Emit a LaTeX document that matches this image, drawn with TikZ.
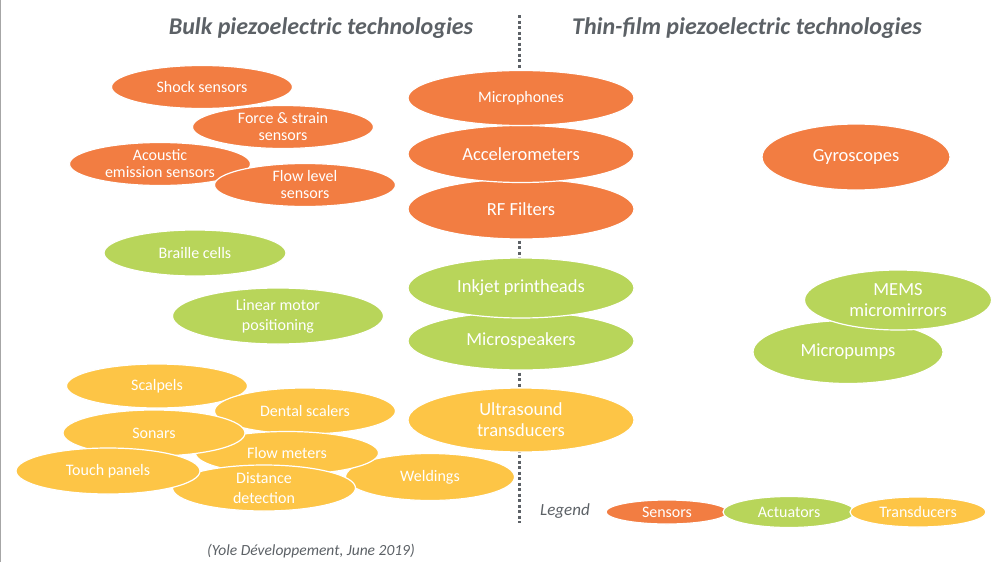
\documentclass[tikz,border=0pt]{standalone}
\usepackage{fontspec}
\setmainfont{Carlito}
\usetikzlibrary{shapes.geometric}
\definecolor{sensorcol}{HTML}{F27D42}
\definecolor{actuatorcol}{HTML}{B8D55A}
\definecolor{transducercol}{HTML}{FDC546}
\definecolor{titlegray}{HTML}{5C6166}
\begin{document}
\begin{tikzpicture}[x=1pt,y=-1pt,
	blob/.style={ellipse,draw=white,line width=1.2pt,inner sep=0pt,text=white,align=center,font=\fontsize{16}{17}\selectfont},
	bigblob/.style={font=\fontsize{18.5}{21}\selectfont},
	wideline/.style={font=\fontsize{16}{20}\selectfont},
	sensor/.style={blob,fill=sensorcol},
	actuator/.style={blob,fill=actuatorcol},
	transducer/.style={blob,fill=transducercol},
	heading/.style={text=titlegray,font=\fontsize{24}{26}\selectfont\bfseries\itshape},
	divider/.style={titlegray,line width=3pt,dash pattern=on 3pt off 2.5pt}]
	\useasboundingbox (0,0) rectangle (992,562);
	\draw[gray!70,line width=1pt] (0.5,0) -- (0.5,562);
	
	% titles
	\node[heading] (bulk) at (321,28) {Bulk piezoelectric technologies};
	\node[heading] (thin) at (747,28) {Thin-film piezoelectric technologies};
	
	% divider behind the middle column
	\coordinate (divtop) at (519,15);
	\coordinate (divbot) at (519,523);
	\draw[divider] (divtop) -- (divbot);
	
	% sensors
	\node[sensor,minimum width=181pt,minimum height=43pt] (shock) at (202,87) {Shock sensors};
	\node[sensor,minimum width=181pt,minimum height=43pt] (force) at (283,127) {Force \& strain\\sensors};
	\node[sensor,minimum width=181pt,minimum height=43pt] (acoustic) at (160,164) {Acoustic\\emission sensors};
	\node[sensor,minimum width=181pt,minimum height=43pt] (flowlevel) at (305,185) {Flow level\\sensors};
	\node[sensor,bigblob,minimum width=226pt,minimum height=60pt] (rf) at (521,209) {RF Filters};
	\node[sensor,bigblob,minimum width=226pt,minimum height=57pt] (accel) at (521,154) {Accelerometers};
	\node[sensor,minimum width=226pt,minimum height=55pt] (micro) at (521,98) {Microphones};
	\node[sensor,bigblob,minimum width=188pt,minimum height=66pt] (gyro) at (856,157) {Gyroscopes};
	
	% actuators
	\node[actuator,minimum width=182pt,minimum height=46pt] (braille) at (195,253) {Braille cells};
	\node[actuator,wideline,minimum width=211pt,minimum height=56pt] (linear) at (278,316) {Linear motor\\positioning};
	\node[actuator,bigblob,minimum width=226pt,minimum height=58pt] (speakers) at (521,341) {Microspeakers};
	\node[actuator,bigblob,minimum width=226pt,minimum height=60pt] (inkjet) at (521,288) {Inkjet printheads};
	\node[actuator,bigblob,minimum width=190pt,minimum height=63pt] (pumps) at (848,352) {Micropumps};
	\node[actuator,bigblob,minimum width=187pt,minimum height=60pt] (mems) at (898,300) {MEMS\\micromirrors};
	
	% transducers
	\node[transducer,minimum width=181pt,minimum height=44pt] (scalpels) at (157,386) {Scalpels};
	\node[transducer,minimum width=181pt,minimum height=46pt] (dental) at (305,411) {Dental scalers};
	\node[transducer,minimum width=169pt,minimum height=47pt] (weld) at (430,477) {Weldings};
	\node[transducer,minimum width=183pt,minimum height=43pt] (flowmeter) at (287,453) {Flow meters};
	\node[transducer,minimum width=182pt,minimum height=46pt] (sonars) at (154,433) {Sonars};
	\node[transducer,wideline,minimum width=183pt,minimum height=46pt] (distance) at (264,488) {Distance\\detection};
	\node[transducer,minimum width=184pt,minimum height=46pt] (touch) at (108,471) {Touch panels};
	\node[transducer,bigblob,minimum width=226pt,minimum height=64pt] (ultra) at (521,420) {Ultrasound\\transducers};
	
	% legend
	\node[text=titlegray,font=\fontsize{17}{19}\selectfont\itshape] (legend) at (565,511) {Legend};
	\node[sensor,minimum width=122pt,minimum height=24pt] (legsens) at (667,512) {Sensors};
	\node[actuator,minimum width=132pt,minimum height=31pt] (legact) at (789,512) {Actuators};
	\node[transducer,minimum width=136pt,minimum height=30pt] (legtrans) at (918,512) {Transducers};
	
	% source
	\node[text=titlegray,font=\fontsize{15.5}{17}\selectfont\itshape] (source) at (311,551) {(Yole D\'eveloppement, June 2019)};
\end{tikzpicture}
\end{document}
